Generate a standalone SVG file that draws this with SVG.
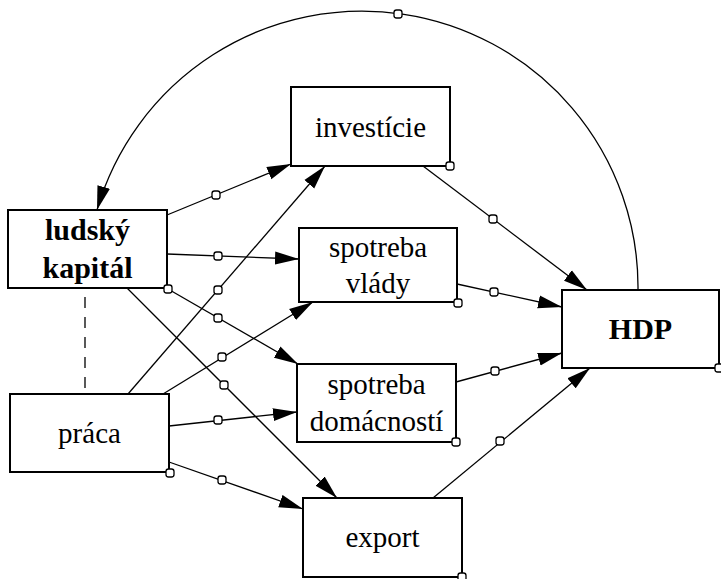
<svg xmlns="http://www.w3.org/2000/svg" width="721" height="579" viewBox="0 0 721 579">
<style>
.box{fill:#fff;stroke:#000;stroke-width:2}
.t{font-family:"Liberation Serif","Times New Roman",serif;font-size:29px;fill:#000;text-anchor:middle}
.b{font-weight:bold;font-size:30px}
.ln{fill:none;stroke:#000;stroke-width:1.3}
.dot{fill:#fff;stroke:#000;stroke-width:1.3}
</style>
<defs>
<marker id="ah" markerUnits="userSpaceOnUse" markerWidth="26" markerHeight="14" refX="24" refY="7" orient="auto">
<path d="M0,0.5 L24,7 L0,13.5 z" fill="#000"/>
</marker>
</defs>
<rect width="721" height="579" fill="#fff"/>
<g id="connectors">
<path class="ln" d="M638,290 A276,276 0 0 0 97,210" marker-end="url(#ah)"/>
<line class="ln" x1="85" y1="297" x2="85" y2="388" stroke-dasharray="11 9"/>
<line class="ln" x1="167" y1="215" x2="291" y2="164" marker-end="url(#ah)"/>
<line class="ln" x1="167" y1="254" x2="299" y2="259" marker-end="url(#ah)"/>
<line class="ln" x1="168" y1="289" x2="298" y2="364" marker-end="url(#ah)"/>
<line class="ln" x1="127" y1="288" x2="337" y2="498" marker-end="url(#ah)"/>
<line class="ln" x1="128" y1="394" x2="325" y2="166" marker-end="url(#ah)"/>
<line class="ln" x1="163" y1="394" x2="313" y2="302" marker-end="url(#ah)"/>
<line class="ln" x1="169" y1="426" x2="297" y2="412" marker-end="url(#ah)"/>
<line class="ln" x1="169" y1="462" x2="303" y2="509" marker-end="url(#ah)"/>
<line class="ln" x1="423" y1="166" x2="587" y2="290" marker-end="url(#ah)"/>
<line class="ln" x1="457" y1="284" x2="562" y2="307" marker-end="url(#ah)"/>
<line class="ln" x1="456" y1="382" x2="562" y2="353" marker-end="url(#ah)"/>
<line class="ln" x1="433" y1="498" x2="590" y2="368" marker-end="url(#ah)"/>
</g>
<g id="n-ludsky">
<rect class="box" x="8" y="210" width="159" height="78"/>
<text class="t b" x="87.5" y="240">ludský</text>
<text class="t b" x="87.5" y="278">kapitál</text>
</g>
<g id="n-praca">
<rect class="box" x="10" y="394" width="159" height="78"/>
<text class="t" x="89.5" y="443">práca</text>
</g>
<g id="n-investicie">
<rect class="box" x="291" y="87" width="159" height="79"/>
<text class="t" x="370.5" y="137">investície</text>
</g>
<g id="n-vlady">
<rect class="box" x="299" y="228" width="158" height="74"/>
<text class="t" x="378" y="257">spotreba</text>
<text class="t" x="378" y="293">vlády</text>
</g>
<g id="n-domacnosti">
<rect class="box" x="297" y="364" width="159" height="78"/>
<text class="t" x="376.5" y="394">spotreba</text>
<text class="t" x="376.5" y="431">domácností</text>
</g>
<g id="n-export">
<rect class="box" x="303" y="498" width="159" height="79"/>
<text class="t" x="382.5" y="547">export</text>
</g>
<g id="n-hdp">
<rect class="box" x="562" y="290" width="157" height="78"/>
<text class="t b" x="640.5" y="339">HDP</text>
</g>
<g id="markers">
<rect class="dot" x="394" y="10" width="8" height="8" rx="2.5"/>
<rect class="dot" x="212" y="191" width="8" height="8" rx="2.5"/>
<rect class="dot" x="214" y="252" width="8" height="8" rx="2.5"/>
<rect class="dot" x="214" y="314" width="8" height="8" rx="2.5"/>
<rect class="dot" x="220" y="381" width="8" height="8" rx="2.5"/>
<rect class="dot" x="214" y="286" width="8" height="8" rx="2.5"/>
<rect class="dot" x="218" y="353" width="8" height="8" rx="2.5"/>
<rect class="dot" x="214" y="416" width="8" height="8" rx="2.5"/>
<rect class="dot" x="218" y="476" width="8" height="8" rx="2.5"/>
<rect class="dot" x="489" y="215" width="8" height="8" rx="2.5"/>
<rect class="dot" x="490" y="288" width="8" height="8" rx="2.5"/>
<rect class="dot" x="491" y="367" width="8" height="8" rx="2.5"/>
<rect class="dot" x="496" y="437" width="8" height="8" rx="2.5"/>
<rect class="dot" x="164" y="285" width="8" height="8" rx="2.5"/>
<rect class="dot" x="166" y="469" width="8" height="8" rx="2.5"/>
<rect class="dot" x="446" y="162" width="8" height="8" rx="2.5"/>
<rect class="dot" x="454" y="299" width="8" height="8" rx="2.5"/>
<rect class="dot" x="452" y="438" width="8" height="8" rx="2.5"/>
<rect class="dot" x="458" y="573" width="8" height="8" rx="2.5"/>
<rect class="dot" x="715" y="364" width="8" height="8" rx="2.5"/>
</g>
</svg>
